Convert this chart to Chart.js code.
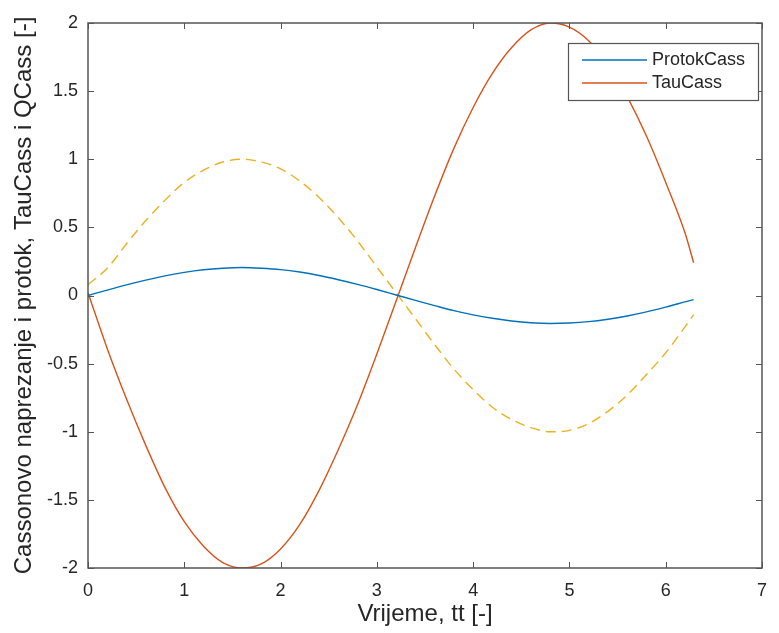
<!DOCTYPE html>
<html>
<head>
<meta charset="utf-8">
<script src="https://cdn.jsdelivr.net/npm/chart.js@4/dist/chart.umd.min.js"></script>
<style>
  html, body { margin: 0; padding: 0; background: #fff; }
  #wrap { width: 779px; height: 633px; }
</style>
</head>
<body>
<div id="wrap"><canvas id="chart" width="779" height="633"></canvas></div>
<script>
const tt = [0, 0.2, 0.4, 0.6, 0.8, 1.0, 1.2, 1.4, 1.6, 1.8, 2.0, 2.2, 2.4, 2.6, 2.8, 3.0,
            3.2, 3.4, 3.6, 3.8, 4.0, 4.2, 4.4, 4.6, 4.8, 5.0, 5.2, 5.4, 5.6, 5.8, 6.0, 6.2, 6.29];
const protokCass = [0, 0.04, 0.078, 0.113, 0.144, 0.17, 0.189, 0.2, 0.205, 0.2, 0.19, 0.172, 0.147, 0.116, 0.082, 0.044,
            0.004, -0.036, -0.074, -0.111, -0.142, -0.167, -0.187, -0.2, -0.205, -0.202, -0.192, -0.174, -0.15, -0.12, -0.085, -0.047, -0.03];
const tauCass = [0.02, -0.39, -0.76, -1.1, -1.41, -1.66, -1.84, -1.96, -2.0, -1.97, -1.86, -1.68, -1.43, -1.13, -0.8, -0.43,
            -0.04, 0.35, 0.73, 1.08, 1.38, 1.63, 1.82, 1.95, 2.0, 1.97, 1.87, 1.7, 1.46, 1.17, 0.83, 0.46, 0.24];
const qCass = [0.08, 0.2, 0.38, 0.55, 0.7, 0.83, 0.92, 0.98, 1.0, 0.98, 0.93, 0.84, 0.72, 0.57, 0.4, 0.21,
            0.02, -0.17, -0.36, -0.54, -0.69, -0.82, -0.91, -0.97, -1.0, -0.99, -0.94, -0.85, -0.73, -0.58, -0.42, -0.23, -0.14];
const xTicks = [0, 1, 2, 3, 4, 5, 6, 7];
const yTicks = [-2, -1.5, -1, -0.5, 0, 0.5, 1, 1.5, 2];

const FONT = 'Liberation Sans, Arial, sans-serif';
const AXIS_COLOR = '#555';
const TEXT_COLOR = '#262626';

function pts(ys) {
    return tt.map((x, i) => ({ x: x, y: ys[i] }));
}

// MATLAB style box with inward ticks and the legend box
const matlabBox = {
    id: 'matlabBox',
    afterDatasetsDraw(chart) {
        const { ctx, chartArea: a, scales } = chart;
        ctx.save();
        ctx.strokeStyle = AXIS_COLOR;
        ctx.lineWidth = 1;
        const len = 6;
        ctx.beginPath();
        for (const v of xTicks) {
            const px = Math.round(scales.x.getPixelForValue(v)) + 0.5;
            ctx.moveTo(px, a.bottom); ctx.lineTo(px, a.bottom - len);
            ctx.moveTo(px, a.top); ctx.lineTo(px, a.top + len);
        }
        for (const v of yTicks) {
            const py = Math.round(scales.y.getPixelForValue(v)) + 0.5;
            ctx.moveTo(a.left, py); ctx.lineTo(a.left + len, py);
            ctx.moveTo(a.right, py); ctx.lineTo(a.right - len, py);
        }
        ctx.stroke();
        ctx.lineWidth = 1.5;
        ctx.strokeRect(a.left, a.top, a.right - a.left, a.bottom - a.top);

        // legend (first two series only)
        const lx = 568, ly = 43, lw = 190, lh = 57;
        ctx.fillStyle = '#fff';
        ctx.fillRect(lx, ly, lw, lh);
        ctx.lineWidth = 1.2;
        ctx.strokeStyle = '#555';
        ctx.strokeRect(lx + 0.5, ly + 0.5, lw, lh);
        ctx.font = '18px ' + FONT;
        ctx.textBaseline = 'middle';
        ctx.textAlign = 'left';
        chart.data.datasets.slice(0, 2).forEach((ds, i) => {
            const y = ly + 17 + i * 23;
            ctx.strokeStyle = ds.borderColor;
            ctx.lineWidth = 1.5;
            ctx.beginPath();
            ctx.moveTo(lx + 14, y); ctx.lineTo(lx + 79, y);
            ctx.stroke();
            ctx.fillStyle = TEXT_COLOR;
            ctx.fillText(ds.label, lx + 84, y);
        });
        ctx.restore();
    }
};

const ctx = document.querySelector('#chart').getContext('2d');
const chart = new Chart(ctx, {
    type: 'scatter',
    data: {
        datasets: [
            { label: 'ProtokCass', data: pts(protokCass), borderColor: '#0072BD', borderWidth: 1.4 },
            { label: 'TauCass', data: pts(tauCass), borderColor: '#D95319', borderWidth: 1.4 },
            { label: 'QCass', data: pts(qCass), borderColor: '#EDB120', borderWidth: 1.4, borderDash: [10, 6] }
        ]
    },
    options: {
        responsive: false,
        animation: false,
        showLine: true,
        elements: {
            point: { radius: 0, hoverRadius: 0 },
            line: { cubicInterpolationMode: 'monotone', fill: false }
        },
        layout: { padding: { left: 0, top: 23, right: 2, bottom: 0 } },
        plugins: {
            legend: { display: false },
            tooltip: { enabled: false }
        },
        scales: {
            x: {
                type: 'linear',
                min: 0, max: 7,
                afterBuildTicks: (s) => { s.ticks = xTicks.map(v => ({ value: v })); },
                afterFit: (s) => { s.height = 65; },
                grid: { display: false, drawTicks: false },
                border: { display: false },
                ticks: { color: TEXT_COLOR, font: { family: FONT, size: 18 }, padding: 12, maxRotation: 0 },
                title: { display: true, text: 'Vrijeme, tt [-]', color: TEXT_COLOR, font: { family: FONT, size: 24 }, padding: { top: 0 } }
            },
            y: {
                type: 'linear',
                min: -2, max: 2,
                afterBuildTicks: (s) => { s.ticks = yTicks.map(v => ({ value: v })); },
                afterFit: (s) => { s.width = 88; },
                grid: { display: false, drawTicks: false },
                border: { display: false },
                ticks: {
                    color: TEXT_COLOR, font: { family: FONT, size: 18 }, padding: 10,
                    callback: (v) => String(v)
                },
                title: { display: true, text: 'Cassonovo naprezanje i protok, TauCass i QCass [-]', color: TEXT_COLOR, font: { family: FONT, size: 24 }, padding: { top: 10, bottom: 0 } }
            }
        }
    },
    plugins: [matlabBox]
});
</script>
</body>
</html>
